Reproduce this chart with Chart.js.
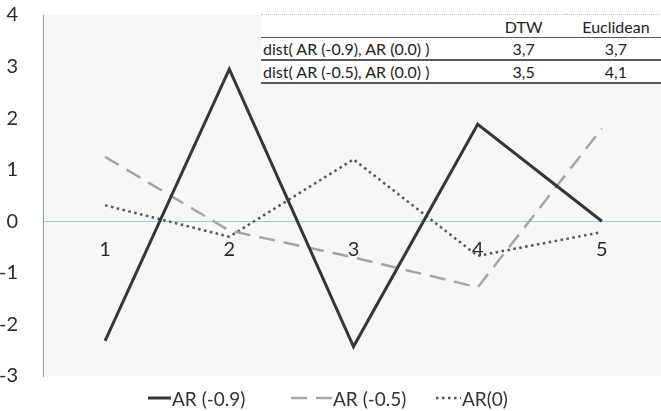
<!DOCTYPE html>
<html lang="en">
<head>
    <meta charset="UTF-8">
    <title>AR series distances</title>
    <script src="https://cdn.jsdelivr.net/npm/chart.js"></script>
    <style>
        html, body {
            margin: 0;
            padding: 0;
            background: #ffffff;
            overflow: hidden;
            font-family: Lato, "Open Sans", sans-serif;
        }
        #wrap {
            position: relative;
            width: 664px;
            height: 411px;
        }
        #dist-table {
            position: absolute;
            left: 261px;
            top: 14px;
            width: 403px;
            background: #ffffff;
            border-collapse: collapse;
            font-size: 16px;
            color: #222;
            border-top: 1px dotted #c8c8c8;
        }
        #dist-table td {
            padding: 0 0 0 2px;
            border-bottom: 2px solid #5a5a5a;
            white-space: nowrap;
        }
        #dist-table tr.head td {
            border-bottom-width: 1.5px;
            height: 22px;
        }
        #dist-table tr.row td { height: 21px; }
        #dist-table td.num { text-align: center; }
        #legend {
            position: absolute;
            left: 0;
            top: 386px;
            width: 664px;
            height: 24px;
            font-size: 19px;
            color: #333;
        }
        #legend .item {
            position: absolute;
            top: 0;
            display: flex;
            align-items: center;
            height: 24px;
            white-space: nowrap;
        }
        #legend svg { display: block; margin-right: 1px; }
    </style>
</head>
<body>
<div id="wrap">
    <canvas id="chart"></canvas>
    <table id="dist-table"></table>
    <div id="legend"></div>
</div>
<script>
    const categories = ['1', '2', '3', '4', '5'];
    const ar09 = [-2.32, 2.95, -2.43, 1.88, 0.0];
    const ar05 = [1.25, -0.18, -0.70, -1.28, 1.80];
    const ar00 = [0.31, -0.30, 1.20, -0.67, -0.21];
    const seriesNames = ['AR (-0.9)', 'AR (-0.5)', 'AR(0)'];

    const tableHeader = ['', 'DTW', 'Euclidean'];
    const tableRows = [
        ['dist( AR (-0.9), AR (0.0) )', '3,7', '3,7'],
        ['dist( AR (-0.5), AR (0.0) )', '3,5', '4,1']
    ];

    // small table in the upper right corner
    const table = document.getElementById('dist-table');
    let html = '<tr class="head">' + tableHeader.map((h, i) =>
        `<td class="${i ? 'num' : ''}" style="width:${[218, 86, 97][i]}px">${h}</td>`).join('') + '</tr>';
    tableRows.forEach(r => {
        html += '<tr class="row">' + r.map((c, i) => `<td class="${i ? 'num' : ''}">${c}</td>`).join('') + '</tr>';
    });
    table.innerHTML = html;

    const plotBg = {
        id: 'plotBg',
        beforeDraw(chart) {
            const { ctx, chartArea } = chart;
            ctx.save();
            ctx.fillStyle = '#f7f7f5';
            ctx.fillRect(chartArea.left, chartArea.top, chartArea.right - chartArea.left, chartArea.bottom - chartArea.top);
            ctx.restore();
        }
    };

    const chart = new Chart(document.getElementById('chart'), {
        type: 'line',
        data: {
            labels: categories,
            datasets: [
                {
                    label: seriesNames[0],
                    data: ar09,
                    borderColor: '#363636',
                    borderWidth: 3,
                    pointRadius: 0,
                    tension: 0
                },
                {
                    label: seriesNames[1],
                    data: ar05,
                    borderColor: '#a6a6a6',
                    borderWidth: 2.5,
                    borderDash: [16, 9],
                    pointRadius: 0,
                    tension: 0
                },
                {
                    label: seriesNames[2],
                    data: ar00,
                    borderColor: '#555555',
                    borderWidth: 2.5,
                    borderDash: [2.5, 3.5],
                    pointRadius: 0,
                    tension: 0
                }
            ]
        },
        options: {
            responsive: true,
            maintainAspectRatio: false,
            animation: false,
            layout: {
                padding: { top: 15, right: 0, bottom: 35, left: 0 }
            },
            plugins: {
                tooltip: { enabled: false },
                legend: { display: false }
            },
            scales: {
                x: {
                    type: 'category',
                    offset: true,
                    position: { y: 0 },   // category axis sits on the zero line
                    grid: { display: false },
                    border: { color: '#9fc4dc', width: 1 },
                    ticks: {
                        padding: 8,
                        color: '#2b2b2b',
                        font: { family: 'Lato', size: 20 }
                    },
                    afterFit(scale) {
                        scale.height = 0;
                        scale.paddingLeft = scale.paddingRight = scale.paddingTop = scale.paddingBottom = 0;
                    }
                },
                y: {
                    min: -3,
                    max: 4,
                    grid: { display: false },
                    border: { color: '#8d9cab', width: 1, dash: [1, 2] },
                    ticks: {
                        stepSize: 1,
                        padding: 17,
                        color: '#2b2b2b',
                        font: { family: 'Lato', size: 20 }
                    },
                    afterFit(scale) {
                        scale.width = 43;
                        scale.paddingTop = scale.paddingBottom = 0;
                    }
                }
            }
        },
        plugins: [plotBg]
    });

    // html legend below the plot, line samples taken from the datasets
    const legendLeft = [148, 291, 436];
    const sampleWidth = [23, 41, 25];
    const legend = document.getElementById('legend');
    chart.data.datasets.forEach((ds, i) => {
        const dash = ds.borderDash ? ds.borderDash.join(',') : 'none';
        const w = sampleWidth[i];
        legend.insertAdjacentHTML('beforeend',
            `<div class="item" style="left:${legendLeft[i]}px">` +
            `<svg width="${w}" height="6"><line x1="0" y1="3" x2="${w}" y2="3" stroke="${ds.borderColor}" ` +
            `stroke-width="${ds.borderWidth}" stroke-dasharray="${dash}"/></svg>${ds.label}</div>`);
    });
</script>
</body>
</html>
